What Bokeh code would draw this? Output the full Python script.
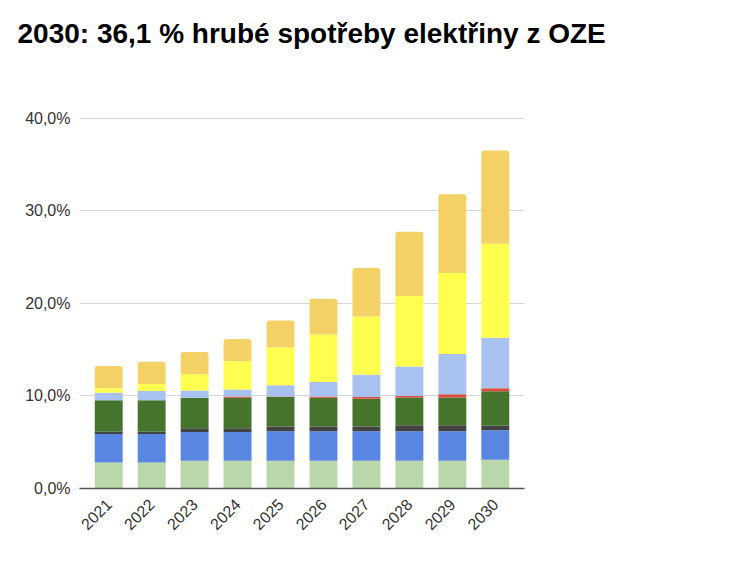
from math import pi
from bokeh.plotting import figure
from bokeh.models import (FactorRange, Range1d, FixedTicker, CustomJSTickFormatter,
                          Legend, LegendItem, ColumnDataSource, Title)
from bokeh.embed import file_html
from bokeh.resources import INLINE

years = ["2021", "2022", "2023", "2024", "2025", "2026", "2027", "2028", "2029", "2030"]
biomasa = [2.8, 2.8, 3.0, 3.0, 3.0, 3.0, 3.0, 3.0, 3.0, 3.1]
vodni = [3.1, 3.1, 3.1, 3.1, 3.2, 3.2, 3.2, 3.2, 3.2, 3.2]
tko = [0.25, 0.25, 0.4, 0.4, 0.5, 0.5, 0.5, 0.65, 0.65, 0.5]
bioplyn = [3.4, 3.4, 3.3, 3.3, 3.2, 3.1, 3.0, 3.0, 3.0, 3.7]
bps = [0.0, 0.0, 0.0, 0.15, 0.05, 0.15, 0.2, 0.15, 0.35, 0.35]
geo = [0.0, 0.0, 0.0, 0.0, 0.0, 0.0, 0.0, 0.0, 0.0, 0.0]
vitr = [0.8, 1.0, 0.8, 0.75, 1.2, 1.55, 2.4, 3.2, 4.35, 5.45]
fve_vl = [0.5, 0.75, 1.75, 3.05, 4.1, 5.15, 6.3, 7.6, 8.75, 10.15]
fve_vol = [2.4, 2.4, 2.4, 2.4, 2.9, 3.85, 5.25, 6.95, 8.5, 10.1]

series_keys = ["biomasa", "vodni", "tko", "bioplyn", "bps", "geo", "vitr", "fve_vl", "fve_vol"]
series_labels = ["Biomasa mimo", "Vodní elektrárny", "Biologicky roz. část\nTKO",
                 "Bioplynové stanice", "BPS a BMS\n(biometan)", "Geotermální\nenergie",
                 "Větrné elektrárny", "FVE vlastní\nspotřeba", "FVE volná plocha"]
series_colors = ["#B9D7AA", "#5886E0", "#434343", "#46742C", "#DB4C3F", "#000000",
                 "#A9C1EE", "#FFFF4F", "#F4D166"]
y_ticks = [0, 10, 20, 30, 40]
chart_title = "2030: 36,1 % hrubé spotřeby elektřiny z OZE"

src = ColumnDataSource(dict(years=years, biomasa=biomasa, vodni=vodni, tko=tko,
                            bioplyn=bioplyn, bps=bps, geo=geo, vitr=vitr,
                            fve_vl=fve_vl, fve_vol=fve_vol))

FONT = "Liberation Sans"

p = figure(x_range=FactorRange(factors=years, range_padding=0.18, range_padding_units="absolute"),
           y_range=Range1d(0, 41.405),
           frame_width=445, frame_height=383,
           min_border_left=79, min_border_right=212, min_border_top=0, min_border_bottom=82,
           output_backend="svg", toolbar_location=None,
           title=chart_title)

rs = p.vbar_stack(series_keys, x="years", width=0.65, source=src,
                  fill_color=series_colors, line_color=None)
rs[-1].glyph.border_radius = (3, 3, 0, 0)

# real title (outermost) and a blank spacer between it and the plot area
p.title.text_font = FONT
p.title.text_font_size = "28px"
p.title.text_font_style = "bold"
p.title.text_color = "#000000"
p.title.offset = -62
p.title.standoff = 30
p.add_layout(Title(text=" ", text_font_size="10px", standoff=29), "above")

p.outline_line_color = None
p.xgrid.grid_line_color = None
p.ygrid.grid_line_color = "#D6D6D6"
p.ygrid.grid_line_width = 1

p.yaxis.ticker = FixedTicker(ticks=y_ticks)
p.yaxis.formatter = CustomJSTickFormatter(code="return tick.toFixed(1).replace('.', ',') + '%';")
p.yaxis.axis_line_color = None
p.yaxis.major_tick_line_color = None
p.yaxis.major_tick_out = 0
p.yaxis.major_tick_in = 0
p.yaxis.minor_tick_line_color = None
p.yaxis.major_label_standoff = 9
p.yaxis.major_label_text_font = FONT
p.yaxis.major_label_text_font_size = "16px"
p.yaxis.major_label_text_color = "#333333"

p.xaxis.axis_line_color = "#555555"
p.xaxis.axis_line_width = 1.5
p.xaxis.major_tick_line_color = None
p.xaxis.major_tick_out = 0
p.xaxis.major_tick_in = 0
p.xaxis.minor_tick_line_color = None
p.xaxis.major_label_orientation = pi / 4
p.xaxis.major_label_standoff = 13
p.xaxis.major_label_text_font = FONT
p.xaxis.major_label_text_font_size = "16px"
p.xaxis.major_label_text_color = "#333333"

items = [LegendItem(label=lab, renderers=[r]) for lab, r in zip(series_labels, rs)][::-1]
legend = Legend(items=items, location="top_right", margin=0, padding=0,
                border_line_color=None, background_fill_alpha=0,
                glyph_width=22, glyph_height=22, label_standoff=10, spacing=11,
                label_text_font=FONT, label_text_font_size="18px",
                label_text_color="#222222")
p.add_layout(legend, "right")

open("out.html", "w").write(file_html(p, INLINE))
